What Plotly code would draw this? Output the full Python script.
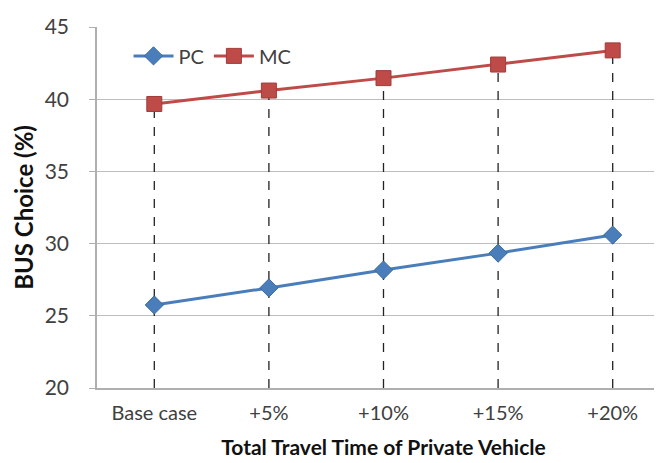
import plotly.graph_objects as go

categories = ["Base case", "+5%", "+10%", "+15%", "+20%"]
pc_values = [25.75, 26.93, 28.17, 29.34, 30.59]
mc_values = [39.67, 40.6, 41.46, 42.4, 43.38]
y_ticks = [20, 25, 30, 35, 40, 45]
y_min = 20

FONT = "Lato, 'Open Sans', sans-serif"
x_idx = list(range(len(categories)))

# Drop lines from the MC points down to the axis minimum
drop_x, drop_y = [], []
for i, v in zip(x_idx, mc_values):
    drop_x += [i, i, None]
    drop_y += [y_min, v, None]

fig = go.Figure()
fig.add_trace(go.Scatter(
    x=drop_x, y=drop_y, mode="lines",
    line=dict(color="#222222", width=1.3, dash="dash"),
    showlegend=False, hoverinfo="skip"))
fig.add_trace(go.Scatter(
    x=x_idx, y=pc_values, mode="lines+markers", name="PC",
    line=dict(color="#4A7EBB", width=3),
    marker=dict(symbol="diamond", size=14, color="#4A7EBB",
                line=dict(color="#3A6AA0", width=1))))
fig.add_trace(go.Scatter(
    x=x_idx, y=mc_values, mode="lines+markers", name="MC",
    line=dict(color="#BE4B48", width=3),
    marker=dict(symbol="square", size=15, color="#BE4B48",
                line=dict(color="#A03C3A", width=1))))

fig.update_layout(
    width=662, height=463,
    margin=dict(l=89, r=0, t=19, b=83),
    paper_bgcolor="white", plot_bgcolor="white",
    font=dict(family=FONT, size=20, color="#404040"),
    legend=dict(orientation="h", x=0.055, y=0.92, xanchor="left", yanchor="middle",
                bgcolor="rgba(0,0,0,0)", font=dict(size=20, color="#404040"),
                itemwidth=40, tracegroupgap=0),
    xaxis=dict(
        range=[-0.5, 4.5], tickmode="array", tickvals=x_idx, ticktext=categories,
        showgrid=False, showline=True, linecolor="#AFAFAF", linewidth=1.5,
        ticks="", tickfont=dict(size=20, color="#404040"), ticklabelstandoff=6,
        title=dict(text="<b>Total Travel Time of Private Vehicle</b>",
                   font=dict(size=21, color="#111111"), standoff=18),
        zeroline=False),
    yaxis=dict(
        range=[20, 45], tickvals=y_ticks,
        showgrid=True, gridcolor="#BDBDBD", gridwidth=1.3,
        showline=True, linecolor="#AFAFAF", linewidth=1.5,
        ticks="outside", ticklen=6, tickcolor="#AFAFAF",
        tickfont=dict(size=21, color="#404040"), ticklabelstandoff=16,
        title=dict(text="<b>BUS Choice (%)</b>",
                   font=dict(size=24, color="#111111"), standoff=4),
        zeroline=False),
)

fig.write_html("out.html")
